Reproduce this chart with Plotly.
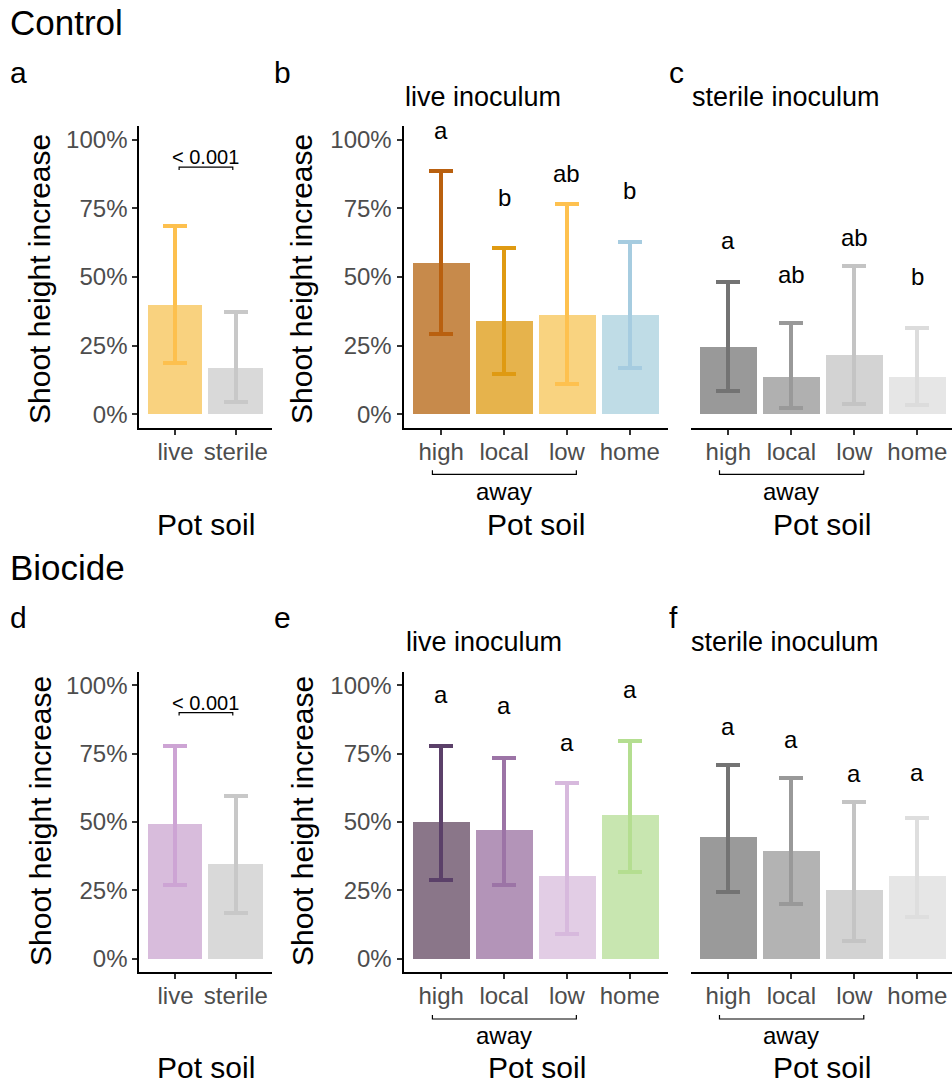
import plotly.graph_objects as go

# ---------------- data ----------------
pot_cats = ["live", "sterile"]
soil_cats = ["high", "local", "low", "home"]

ctrl_pot_mean = [39.7, 16.8]
ctrl_pot_up = [68.7, 37.2]
ctrl_pot_lo = [18.5, 4.3]

ctrl_live_mean = [55.0, 33.9, 36.2, 36.0]
ctrl_live_up = [88.5, 60.4, 76.5, 62.9]
ctrl_live_lo = [29.4, 14.7, 11.1, 16.7]
ctrl_live_letters = ["a", "b", "ab", "b"]
ctrl_live_letter_y = [100.0, 75.6, 84.2, 78.0]

ctrl_ster_mean = [24.4, 13.4, 21.6, 13.6]
ctrl_ster_up = [48.2, 33.3, 54.0, 31.6]
ctrl_ster_lo = [8.5, 2.2, 3.7, 3.3]
ctrl_ster_letters = ["a", "ab", "ab", "b"]
ctrl_ster_letter_y = [59.8, 47.3, 61.0, 46.9]

bio_pot_mean = [49.3, 34.9]
bio_pot_up = [77.7, 59.6]
bio_pot_lo = [26.9, 16.6]

bio_live_mean = [50.2, 47.3, 30.2, 52.7]
bio_live_up = [77.7, 73.3, 64.4, 79.5]
bio_live_lo = [28.7, 26.9, 8.9, 31.6]
bio_live_letters = ["a", "a", "a", "a"]
bio_live_letter_y = [93.1, 89.1, 75.7, 94.9]

bio_ster_mean = [44.6, 39.6, 25.2, 30.4]
bio_ster_up = [70.9, 66.0, 57.2, 51.4]
bio_ster_lo = [24.4, 20.0, 6.3, 15.1]
bio_ster_letters = ["a", "a", "a", "a"]
bio_ster_letter_y = [81.6, 76.7, 64.2, 64.8]

y_ticks = [0, 25, 50, 75, 100]
y_tick_labels = ["0%", "25%", "50%", "75%", "100%"]
p_label = "< 0.001"

# ---------------- styles ----------------
ctrl_pot_fill = ["#F9D27F", "#D9D9D9"]
ctrl_pot_err = ["#FDC04E", "#C8C8C8"]
ctrl_live_fill = ["#C78A4B", "#E6B34C", "#F9D380", "#BFDCE6"]
ctrl_live_err = ["#B9600F", "#DF9A12", "#FEC14F", "#A6CCE0"]
ctrl_ster_fill = ["#999999", "#B0B0B0", "#D3D3D3", "#E6E6E6"]
ctrl_ster_err = ["#737373", "#999999", "#C4C4C4", "#DCDCDC"]
bio_pot_fill = ["#D8BCDC", "#D9D9D9"]
bio_pot_err = ["#CDA4D4", "#C8C8C8"]
bio_live_fill = ["#8A7689", "#B394B8", "#E2CDE5", "#C8E6B0"]
bio_live_err = ["#5B4069", "#9C74A6", "#D7B9DD", "#B4DE90"]
bio_ster_fill = ["#9A9A9A", "#B3B3B3", "#D3D3D3", "#E6E6E6"]
bio_ster_err = ["#737373", "#999999", "#C4C4C4", "#DEDEDE"]

W, H = 952, 1086
FONT = "Liberation Sans, Arial, sans-serif"


def py(px):
    return 1 - px / H


def pxx(px):
    return px / W


fig = go.Figure()

panels = [
    ("", pot_cats, ctrl_pot_mean, ctrl_pot_up, ctrl_pot_lo, ctrl_pot_fill, ctrl_pot_err, None, None),
    ("2", soil_cats, ctrl_live_mean, ctrl_live_up, ctrl_live_lo, ctrl_live_fill, ctrl_live_err, ctrl_live_letters, ctrl_live_letter_y),
    ("3", soil_cats, ctrl_ster_mean, ctrl_ster_up, ctrl_ster_lo, ctrl_ster_fill, ctrl_ster_err, ctrl_ster_letters, ctrl_ster_letter_y),
    ("4", pot_cats, bio_pot_mean, bio_pot_up, bio_pot_lo, bio_pot_fill, bio_pot_err, None, None),
    ("5", soil_cats, bio_live_mean, bio_live_up, bio_live_lo, bio_live_fill, bio_live_err, bio_live_letters, bio_live_letter_y),
    ("6", soil_cats, bio_ster_mean, bio_ster_up, bio_ster_lo, bio_ster_fill, bio_ster_err, bio_ster_letters, bio_ster_letter_y),
]

annotations = []
shapes = []

for aid, cats, mean, up, lo, fill, err, letters, ly in panels:
    for i, c in enumerate(cats):
        fig.add_trace(go.Bar(
            x=[c], y=[mean[i]], width=0.9,
            marker=dict(color=fill[i], line=dict(width=0)),
            error_y=dict(type="data", symmetric=False,
                         array=[up[i] - mean[i]], arrayminus=[mean[i] - lo[i]],
                         color=err[i], thickness=4, width=12),
            xaxis="x" + aid, yaxis="y" + aid,
            showlegend=False, hoverinfo="skip",
        ))
        if letters:
            annotations.append(dict(
                x=c, y=ly[i], xref="x" + aid, yref="y" + aid,
                text=letters[i], showarrow=False, yanchor="bottom", yshift=-6,
                font=dict(size=24, color="black", family=FONT)))

row_top = (126, 428)
row_bot = (671.7, 972.3)
col_a = (139.3, 272.0)
col_b = (403.5, 667.5)
col_c = (690.5, 952.0)

ydom_top = [py(row_top[1]), py(row_top[0])]
ydom_bot = [py(row_bot[1]), py(row_bot[0])]

axis_common = dict(showgrid=False, zeroline=False, linecolor="black", linewidth=2,
                   ticks="outside", ticklen=5, tickwidth=2, tickcolor="#333333",
                   tickfont=dict(size=24, color="#4D4D4D", family=FONT), fixedrange=True)

layout_axes = {}
for aid, col, row, ncat, showy in [
    ("", col_a, ydom_top, 2, True), ("2", col_b, ydom_top, 4, True), ("3", col_c, ydom_top, 4, False),
    ("4", col_a, ydom_bot, 2, True), ("5", col_b, ydom_bot, 4, True), ("6", col_c, ydom_bot, 4, False),
]:
    xr = [-0.6, ncat - 0.4] if col != col_c else [-0.6, 3.55]
    layout_axes["xaxis" + aid] = dict(axis_common, domain=[pxx(col[0]), pxx(col[1])], range=xr,
                                      type="category", categoryorder="array",
                                      categoryarray=pot_cats if ncat == 2 else soil_cats,
                                      anchor="y" + aid, showline=True, ticklabelstandoff=-4)
    ydict = dict(axis_common, domain=row, range=[-5, 105], anchor="x" + aid,
                 tickmode="array", tickvals=y_ticks, ticktext=y_tick_labels)
    if not showy:
        ydict.update(showline=False, ticks="", showticklabels=False)
    else:
        ydict.update(showline=True)
    layout_axes["yaxis" + aid] = ydict


def txt(text, x_px, base_px, size, xanchor="left", color="black"):
    return dict(x=pxx(x_px), y=py(base_px - 0.35 * size), xref="paper", yref="paper",
                text=text, showarrow=False, xanchor=xanchor, yanchor="middle",
                font=dict(size=size, color=color, family=FONT))


annotations += [
    txt("Control", 8, 35, 35),
    txt("a", 8, 83, 30), txt("b", 272, 83, 30), txt("c", 667, 83, 30),
    txt("Biocide", 8, 580, 35),
    txt("d", 8, 628, 30), txt("e", 272, 628, 30), txt("f", 667, 628, 30),
    txt("live inoculum", 403, 106, 27), txt("sterile inoculum", 690, 106, 27),
    txt("live inoculum", 404, 651, 27), txt("sterile inoculum", 689, 651, 27),
]
for xc, yc in [(40, 279), (302, 279), (40, 821), (302, 821)]:
    annotations.append(dict(x=pxx(xc), y=py(yc), xref="paper", yref="paper",
                            text="Shoot height increase", showarrow=False, textangle=-90,
                            xanchor="center", yanchor="middle",
                            font=dict(size=30, color="black", family=FONT)))
for xc, base in [(205.5, 535), (535.5, 535), (822, 535), (205.5, 1078), (537, 1078), (822, 1078)]:
    annotations.append(dict(x=pxx(xc), y=py(base - 0.35 * 30), xref="paper", yref="paper",
                            text="Pot soil", showarrow=False, xanchor="center", yanchor="middle",
                            font=dict(size=30, color="black", family=FONT)))

for aid, line_px, base_px in [("2", 474.3, 500), ("3", 474.3, 500), ("5", 1019, 1043.5), ("6", 1019, 1043.5)]:
    xr = layout_axes["xaxis" + aid]["range"]
    span = xr[1] - xr[0]
    x0 = (-0.14 - xr[0]) / span
    x1 = (2.15 - xr[0]) / span
    shapes.append(dict(type="path", xref="x" + aid + " domain", yref="paper",
                       path=f"M {x0},{py(line_px - 4)} L {x0},{py(line_px)} L {x1},{py(line_px)} L {x1},{py(line_px - 4)}",
                       line=dict(color="black", width=1.2)))
    annotations.append(dict(x="local", y=py(base_px - 0.35 * 24), xref="x" + aid, yref="paper",
                            text="away", showarrow=False, xanchor="center", yanchor="middle",
                            font=dict(size=24, color="black", family=FONT)))

for aid in ["", "4"]:
    shapes.append(dict(type="path", xref="x" + aid, yref="y" + aid,
                       path="M 0.06,89 L 0.06,90 L 0.95,90 L 0.95,89",
                       line=dict(color="black", width=1.2)))
    annotations.append(dict(x=0.5, y=90, xref="x" + aid, yref="y" + aid, text=p_label,
                            showarrow=False, yanchor="bottom", yshift=-3,
                            font=dict(size=20, color="black", family=FONT)))

fig.update_layout(
    width=W, height=H, margin=dict(l=0, r=0, t=0, b=0),
    paper_bgcolor="white", plot_bgcolor="white",
    barmode="overlay", bargap=0,
    annotations=annotations, shapes=shapes,
    font=dict(family=FONT),
    **layout_axes,
)

fig.write_html("out.html", config={"displayModeBar": False})
